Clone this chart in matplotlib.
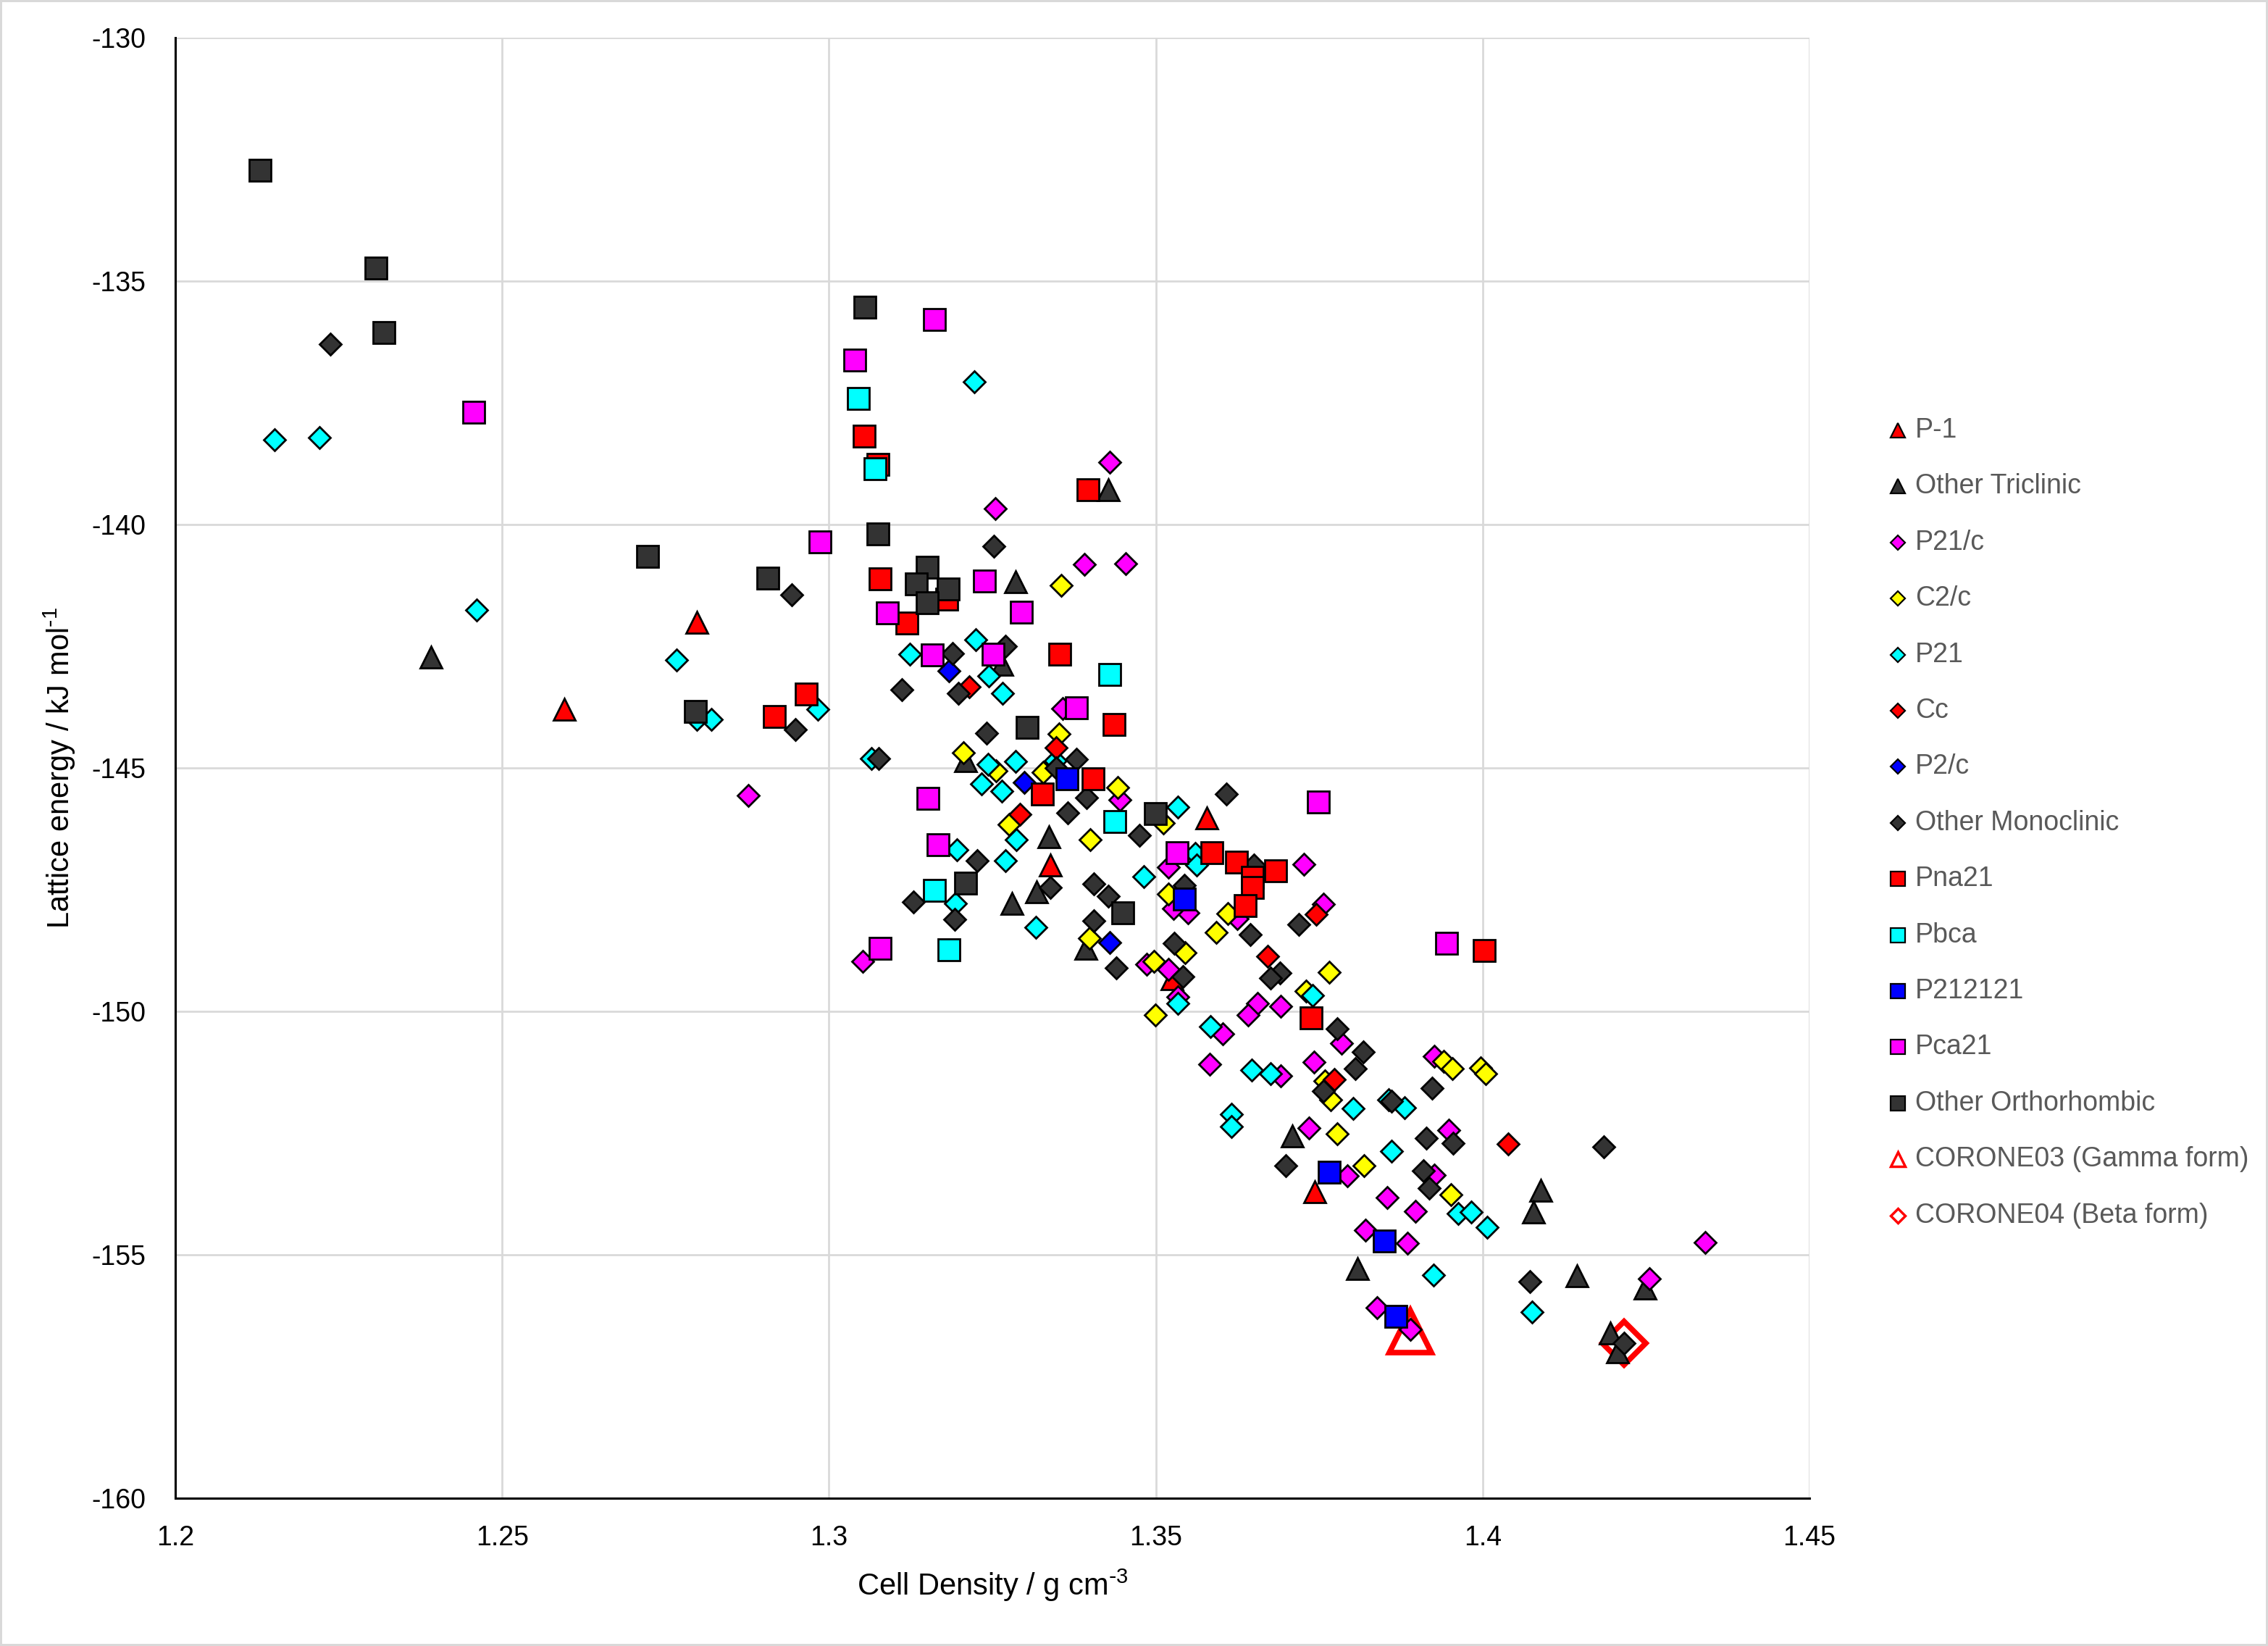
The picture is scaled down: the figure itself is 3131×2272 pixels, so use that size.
import matplotlib
matplotlib.use("Agg")
from matplotlib import pyplot as plt
from matplotlib.lines import Line2D

plt.rcParams["font.family"] = ["Liberation Sans", "DejaVu Sans"]
plt.rcParams["mathtext.default"] = "regular"
plt.rcParams["axes.unicode_minus"] = False

# cell density (g cm-3) and lattice energy (kJ/mol) per space group
p1_x = [1.2798, 1.2595, 1.3339, 1.3578, 1.3743, 1.3525]
p1_y = [-142.01, -143.79, -146.99, -146.03, -153.70, -149.33]

tric_x = [1.2391, 1.3427, 1.3285, 1.3336, 1.3318, 1.3280, 1.3393, 1.3209, 1.3264,
          1.3709, 1.3808, 1.4089, 1.4078, 1.4144, 1.4248, 1.4195, 1.4206]
tric_y = [-142.72, -139.29, -141.17, -146.41, -147.54, -147.78, -148.71, -144.85, -142.87,
          -152.56, -155.29, -153.67, -154.12, -155.43, -155.68, -156.61, -157.00]

p21c_x = [1.2877, 1.3255, 1.3430, 1.3391, 1.3454, 1.3052, 1.3357, 1.3445, 1.3519, 1.3549,
          1.3527, 1.3625, 1.3756, 1.3727, 1.3486, 1.3519, 1.3534, 1.3656, 1.3641, 1.3691,
          1.3602, 1.3582, 1.3691, 1.3742, 1.3784, 1.3734, 1.3793, 1.3854, 1.3897, 1.3821,
          1.3885, 1.3839, 1.3889, 1.3948, 1.3926, 1.3926, 1.4340, 1.4255]
p21c_y = [-145.57, -139.68, -138.72, -140.82, -140.80, -148.97, -143.78, -145.66, -147.04, -147.98,
          -147.88, -148.09, -147.80, -146.98, -149.03, -149.13, -149.70, -149.84, -150.07, -149.89,
          -150.46, -151.09, -151.32, -151.04, -150.65, -152.40, -153.38, -153.82, -154.11, -154.49,
          -154.76, -156.09, -156.54, -152.44, -153.36, -150.93, -154.75, -155.49]

c2c_x = [1.3355, 1.3206, 1.3256, 1.3352, 1.3328, 1.3276, 1.3400, 1.3398, 1.3442, 1.3592,
         1.3610, 1.3519, 1.3512, 1.3497, 1.3545, 1.3765, 1.3730, 1.3499, 1.3759, 1.3768,
         1.3777, 1.3819, 1.3951, 1.3940, 1.3954, 1.3997, 1.4005]
c2c_y = [-141.25, -144.69, -145.06, -144.30, -145.09, -146.16, -146.47, -148.50, -145.40, -148.38,
         -147.99, -147.59, -146.13, -148.97, -148.80, -149.20, -149.58, -150.07, -151.43, -151.82,
         -152.52, -153.17, -153.77, -151.02, -151.17, -151.16, -151.28]

p21_x = [1.2152, 1.2221, 1.2461, 1.2767, 1.2798, 1.2820, 1.2983, 1.3222, 1.3124, 1.3224,
         1.3244, 1.3266, 1.3065, 1.3243, 1.3286, 1.3233, 1.3264, 1.3346, 1.3287, 1.3196,
         1.3270, 1.3193, 1.3317, 1.3534, 1.3482, 1.3560, 1.3563, 1.3534, 1.3584, 1.3647,
         1.3676, 1.3740, 1.3802, 1.3616, 1.3616, 1.3861, 1.3881, 1.3963, 1.3983, 1.4007,
         1.3925, 1.4076, 1.3856]
p21_y = [-138.26, -138.21, -141.75, -142.78, -144.00, -144.00, -143.79, -137.07, -142.66, -142.37,
         -143.11, -143.46, -144.80, -144.93, -144.87, -145.32, -145.48, -144.85, -146.47, -146.68,
         -146.91, -147.78, -148.27, -145.81, -147.23, -146.76, -146.99, -149.84, -150.31, -151.21,
         -151.28, -149.68, -152.00, -152.11, -152.37, -152.87, -151.98, -154.15, -154.12, -154.43,
         -155.42, -156.18, -151.82]

cc_x = [1.3215, 1.3347, 1.3292, 1.3671, 1.3745, 1.3773, 1.4039]
cc_y = [-143.33, -144.59, -145.95, -148.87, -148.01, -151.40, -152.72]

p2c_x = [1.3183, 1.3299, 1.3429]
p2c_y = [-143.00, -145.30, -148.59]

mono_x = [1.2237, 1.2943, 1.2949, 1.3252, 1.3189, 1.3270, 1.3112, 1.3198, 1.3076, 1.3241,
          1.3379, 1.3348, 1.3394, 1.3365, 1.3227, 1.3129, 1.3192, 1.3405, 1.3427, 1.3405,
          1.3440, 1.3339, 1.3608, 1.3475, 1.3544, 1.3528, 1.3542, 1.3644, 1.3719, 1.3690,
          1.3675, 1.3650, 1.3777, 1.3817, 1.3805, 1.3756, 1.3861, 1.3923, 1.3914, 1.3955,
          1.3909, 1.3918, 1.3699, 1.4072, 1.4185, 1.4216]
mono_y = [-136.29, -141.44, -144.21, -140.45, -142.65, -142.50, -143.39, -143.47, -144.80, -144.28,
          -144.82, -145.00, -145.61, -145.92, -146.91, -147.75, -148.11, -147.38, -147.64, -148.14,
          -149.10, -147.46, -145.54, -146.39, -147.41, -148.60, -149.29, -148.42, -148.22, -149.21,
          -149.32, -147.00, -150.36, -150.83, -151.17, -151.64, -151.85, -151.57, -152.61, -152.71,
          -153.27, -153.63, -153.17, -155.55, -152.78, -156.82]

pna21_x = [1.3054, 1.3075, 1.3396, 1.3078, 1.3180, 1.3119, 1.3353, 1.2965, 1.2917, 1.3436,
           1.3404, 1.3326, 1.3586, 1.3624, 1.3648, 1.3683, 1.3648, 1.3637, 1.3738, 1.4003]
pna21_y = [-138.19, -138.77, -139.29, -141.12, -141.53, -142.03, -142.66, -143.48, -143.94, -144.11,
           -145.23, -145.53, -146.74, -146.94, -147.25, -147.12, -147.45, -147.83, -150.13, -148.75]

pbca_x = [1.3045, 1.3070, 1.3429, 1.3437, 1.3161, 1.3184]
pbca_y = [-137.41, -138.86, -143.08, -146.10, -147.51, -148.73]

p212121_x = [1.3364, 1.3544, 1.3765, 1.3849, 1.3867]
p212121_y = [-145.22, -147.69, -153.31, -154.72, -156.26]

pca21_x = [1.2457, 1.2986, 1.3039, 1.3161, 1.3089, 1.3238, 1.3294, 1.3158, 1.3251, 1.3379,
           1.3151, 1.3167, 1.3078, 1.3749, 1.3533, 1.3945]
pca21_y = [-137.69, -140.36, -136.62, -135.79, -141.82, -141.16, -141.80, -142.68, -142.67, -143.77,
           -145.63, -146.57, -148.71, -145.70, -146.74, -148.60]

ortho_x = [1.2130, 1.2307, 1.2319, 1.2722, 1.2907, 1.2796, 1.3055, 1.3075, 1.3150, 1.3134,
           1.3182, 1.3150, 1.3303, 1.3209, 1.3450, 1.3499]
ortho_y = [-132.73, -134.73, -136.05, -140.65, -141.10, -143.84, -135.53, -140.19, -140.88, -141.22,
           -141.33, -141.61, -144.16, -147.36, -147.97, -145.94]

corone03_x = [1.3889]
corone03_y = [-156.58]
corone04_x = [1.4216]
corone04_y = [-156.82]

x_ticks = [1.2, 1.25, 1.3, 1.35, 1.4, 1.45]
x_tick_labels = ["1.2", "1.25", "1.3", "1.35", "1.4", "1.45"]
y_ticks = [-160, -155, -150, -145, -140, -135, -130]

DARK = "#333333"
series = [
    ("P-1", p1_x, p1_y, "^", "#FF0000"),
    ("Other Triclinic", tric_x, tric_y, "^", DARK),
    ("P21/c", p21c_x, p21c_y, "D", "#FF00FF"),
    ("C2/c", c2c_x, c2c_y, "D", "#FFFF00"),
    ("P21", p21_x, p21_y, "D", "#00FFFF"),
    ("Cc", cc_x, cc_y, "D", "#FF0000"),
    ("P2/c", p2c_x, p2c_y, "D", "#0000FF"),
    ("Other Monoclinic", mono_x, mono_y, "D", DARK),
    ("Pna21", pna21_x, pna21_y, "s", "#FF0000"),
    ("Pbca", pbca_x, pbca_y, "s", "#00FFFF"),
    ("P212121", p212121_x, p212121_y, "s", "#0000FF"),
    ("Pca21", pca21_x, pca21_y, "s", "#FF00FF"),
    ("Other Orthorhombic", ortho_x, ortho_y, "s", DARK),
]
plot_size = {"^": 21, "D": 15, "s": 22}
legend_size = {"^": 14, "D": 10, "s": 14}

fig = plt.figure(figsize=(31.31, 22.72), dpi=100)
fig.patch.set_edgecolor("#d9d9d9")
fig.patch.set_linewidth(4)
ax = fig.add_axes([0.07729, 0.08979, 0.72053, 0.88732])

ax.plot(corone03_x, corone03_y, linestyle="none", marker="^", markersize=42,
        markerfacecolor="white", markeredgecolor="#FF0000", markeredgewidth=5.5, zorder=2)
ax.plot(corone04_x, corone04_y, linestyle="none", marker="D", markersize=31,
        markerfacecolor="white", markeredgecolor="#FF0000", markeredgewidth=5.5, zorder=2)

for i, (label, xs, ys, m, c) in enumerate(series):
    ax.plot(xs, ys, linestyle="none", marker=m, markersize=plot_size[m],
            markerfacecolor=c, markeredgecolor="black", markeredgewidth=2.0, zorder=3 + i)

ax.set_xlim(1.2, 1.45)
ax.set_ylim(-160, -130)
ax.set_xticks(x_ticks)
ax.set_xticklabels(x_tick_labels)
ax.set_yticks(y_ticks)
ax.tick_params(axis="both", length=0, labelsize=27, colors="black")
ax.tick_params(axis="x", pad=27)
ax.tick_params(axis="y", pad=29)
ax.grid(True, color="#d9d9d9", linewidth=2.0)
ax.set_axisbelow(True)
for side in ["top", "right"]:
    ax.spines[side].set_visible(False)
for side in ["left", "bottom"]:
    ax.spines[side].set_color("black")
    ax.spines[side].set_linewidth(2.2)

fig.text(0.4376, 0.0308, r"Cell Density / g cm$^{\text{-}3}$", ha="center", va="baseline", fontsize=30)
fig.text(0.0262, 0.5334, r"Lattice energy / kJ mol$^{\text{-}1}$", ha="center", va="center",
         rotation=90, fontsize=30)

# legend, drawn entry by entry on the right
leg_entries = [(label, m, c, "black", 1.6) for label, xs, ys, m, c in series]
leg_entries.append(("CORONE03 (Gamma form)", "^", "white", "#FF0000", 2.5))
leg_entries.append(("CORONE04 (Beta form)", "D", "white", "#FF0000", 2.5))
for i, (label, m, fc, ec, ew) in enumerate(leg_entries):
    y = 0.7386 - i * 0.03407
    fig.add_artist(Line2D([0.8368], [y], transform=fig.transFigure, linestyle="none",
                          marker=m, markersize=legend_size[m], markerfacecolor=fc,
                          markeredgecolor=ec, markeredgewidth=ew))
    fig.text(0.8445, y, label, ha="left", va="center", fontsize=27, color="#595959")

fig.savefig("out.png", dpi=100)
